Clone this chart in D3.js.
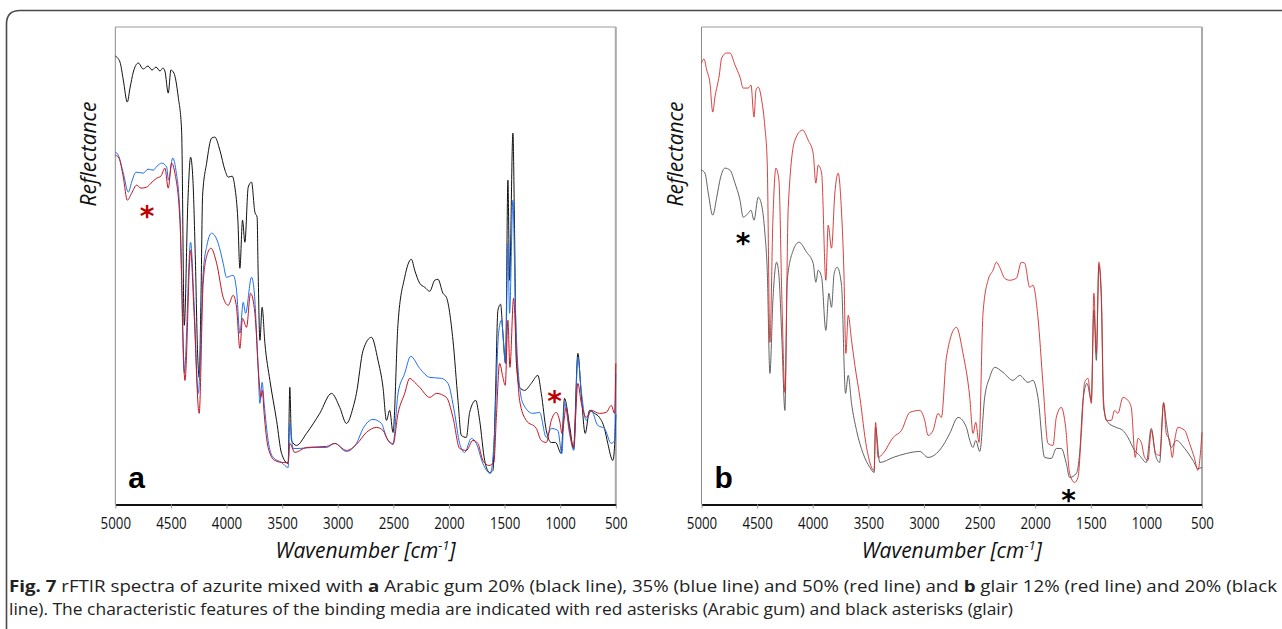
<!DOCTYPE html>
<html><head><meta charset="utf-8">
<script src="https://cdn.jsdelivr.net/npm/d3@7"></script>
<style>body{margin:0;background:#fff}svg{display:block}</style>
</head><body>
<svg id="chart" width="1282" height="629"></svg>
<script>
// ---------- data (wavenumber cm-1, reflectance a.u.) ----------
const wavenumberTicks = [5000,4500,4000,3500,3000,2500,2000,1500,1000,500];

const arabicGum20 = [[5000,448],[4958,442],[4928,424],[4892,402],[4868,416],[4838,432],[4793,441],[4749,435],[4706,438],[4670,434],[4634,437],[4598,433],[4572,436],[4554,433],[4524,411],[4500,434],[4473,431],[4434,407],[4404,374],[4380,179],[4347,304],[4323,347],[4302,324],[4280,244],[4260,151],[4246,127],[4230,204],[4215,309],[4179,341],[4134,366],[4105,367],[4060,354],[4014,334],[3985,327],[3949,328],[3925,317],[3898,284],[3880,236],[3856,284],[3835,262],[3805,317],[3775,322],[3745,292],[3725,287],[3716,234],[3700,164],[3680,197],[3655,161],[3610,124],[3550,84],[3505,51],[3446,41],[3431,117],[3416,64],[3371,59],[3281,71],[3162,91],[3056,111],[2982,97],[2922,81],[2862,97],[2832,111],[2772,154],[2697,167],[2638,144],[2593,117],[2562,84],[2533,94],[2503,72],[2458,181],[2398,227],[2338,245],[2308,234],[2263,221],[2218,217],[2173,213],[2128,224],[2099,225],[2054,211],[2023,207],[1964,164],[1919,104],[1889,69],[1844,67],[1814,92],[1760,104],[1724,84],[1679,44],[1634,32],[1605,34],[1583,104],[1560,194],[1536,200],[1515,171],[1491,141],[1470,324],[1455,224],[1425,371],[1410,271],[1395,144],[1365,117],[1320,114],[1260,121],[1201,129],[1170,111],[1125,74],[1080,62],[1042,62],[991,51],[961,106],[916,79],[880,56],[841,151],[811,111],[775,71],[736,94],[691,91],[647,87],[602,76],[572,61],[527,44],[510,60],[500,90]];

const arabicGum35 = [[5000,352],[4973,349],[4928,331],[4883,312],[4853,322],[4814,332],[4749,331],[4706,335],[4659,334],[4625,338],[4583,341],[4538,337],[4522,324],[4484,346],[4455,334],[4419,291],[4380,132],[4323,262],[4293,204],[4254,111],[4210,231],[4176,259],[4134,271],[4075,261],[4030,241],[4000,227],[3940,229],[3910,214],[3880,171],[3850,202],[3829,191],[3775,227],[3752,214],[3716,137],[3700,101],[3680,122],[3662,101],[3626,64],[3581,47],[3505,42],[3446,37],[3431,81],[3401,56],[3341,56],[3222,57],[3101,57],[3027,61],[2922,53],[2832,61],[2772,76],[2683,85],[2607,81],[2562,67],[2503,61],[2458,111],[2398,131],[2344,148],[2263,136],[2173,127],[2068,126],[2009,121],[1949,91],[1904,61],[1859,52],[1799,66],[1754,61],[1695,41],[1628,31],[1590,71],[1554,171],[1529,184],[1491,141],[1470,261],[1455,191],[1425,304],[1404,204],[1380,137],[1335,101],[1246,91],[1185,92],[1125,67],[1080,76],[1021,74],[985,51],[961,102],[916,71],[877,54],[841,147],[811,114],[766,84],[721,94],[662,79],[602,76],[541,61],[511,64],[500,131]];

const arabicGum50 = [[5000,349],[4967,346],[4928,327],[4892,304],[4853,311],[4808,319],[4769,316],[4718,317],[4679,321],[4628,326],[4590,328],[4554,336],[4524,316],[4493,341],[4464,331],[4419,284],[4374,124],[4323,254],[4293,194],[4246,91],[4210,221],[4176,249],[4140,256],[4089,241],[4030,207],[3985,199],[3940,209],[3910,197],[3880,156],[3856,186],[3820,177],[3784,211],[3745,191],[3707,124],[3691,107],[3678,114],[3662,91],[3626,57],[3566,44],[3491,42],[3446,42],[3431,61],[3386,52],[3281,57],[3101,58],[3027,61],[2922,54],[2832,60],[2742,72],[2652,77],[2593,74],[2548,64],[2503,60],[2458,91],[2398,111],[2353,126],[2308,122],[2263,117],[2173,107],[2113,111],[2023,107],[1964,87],[1904,56],[1844,54],[1785,64],[1740,61],[1695,44],[1641,39],[1596,42],[1574,87],[1545,141],[1515,127],[1494,119],[1470,184],[1452,137],[1419,206],[1395,154],[1365,104],[1305,84],[1215,76],[1170,64],[1125,62],[1080,84],[1036,92],[1000,81],[985,71],[946,97],[916,74],[880,57],[841,121],[811,102],[766,87],[721,94],[647,91],[586,92],[541,99],[511,91],[500,141]];

const glair12 = [[5000,441],[4978,445],[4953,434],[4924,421],[4899,392],[4879,407],[4840,429],[4819,446],[4774,451],[4744,451],[4699,439],[4654,427],[4625,416],[4580,416],[4555,419],[4528,387],[4510,414],[4490,417],[4459,404],[4430,377],[4409,341],[4385,162],[4358,284],[4331,336],[4304,324],[4277,204],[4250,112],[4220,297],[4160,364],[4091,374],[4041,364],[3996,351],[3972,321],[3951,339],[3920,331],[3882,224],[3861,279],[3831,256],[3801,311],[3771,331],[3741,292],[3720,234],[3702,151],[3681,189],[3651,164],[3621,139],[3576,107],[3516,57],[3448,34],[3435,82],[3412,47],[3367,51],[3277,67],[3202,74],[3127,92],[3037,94],[2993,84],[2963,69],[2918,74],[2873,91],[2843,87],[2798,147],[2708,177],[2649,151],[2588,107],[2559,71],[2534,82],[2505,62],[2469,191],[2424,224],[2379,234],[2349,242],[2319,237],[2274,226],[2229,224],[2169,226],[2124,242],[2094,241],[2049,217],[2020,219],[1975,187],[1930,121],[1885,61],[1840,59],[1810,87],[1765,97],[1726,77],[1690,31],[1645,22],[1615,27],[1585,71],[1555,122],[1525,126],[1495,101],[1472,211],[1450,151],[1427,242],[1405,211],[1385,104],[1360,84],[1315,84],[1286,94],[1256,91],[1211,107],[1166,104],[1136,97],[1100,47],[1076,66],[1046,62],[1016,47],[986,44],[956,74],[917,51],[881,49],[845,102],[821,71],[791,64],[767,47],[746,64],[716,77],[656,74],[612,61],[567,46],[537,34],[500,72]];

const glair20 = [[5000,334],[4969,331],[4939,311],[4899,289],[4863,307],[4828,327],[4789,336],[4744,334],[4699,321],[4654,304],[4625,287],[4580,291],[4555,294],[4528,284],[4490,307],[4459,299],[4430,271],[4409,234],[4385,131],[4358,204],[4325,242],[4304,229],[4277,164],[4250,94],[4229,224],[4175,254],[4124,262],[4055,252],[3996,241],[3972,222],[3951,234],[3920,227],[3882,174],[3855,211],[3831,197],[3807,231],[3780,237],[3741,219],[3705,111],[3681,129],[3651,101],[3606,74],[3547,51],[3486,37],[3448,32],[3435,77],[3397,42],[3277,47],[3157,51],[3037,53],[2963,47],[2887,51],[2828,59],[2768,71],[2693,87],[2618,77],[2588,64],[2559,57],[2534,64],[2498,53],[2454,107],[2409,127],[2364,137],[2289,132],[2199,124],[2139,129],[2065,122],[2020,124],[1975,107],[1915,47],[1855,46],[1810,56],[1765,56],[1720,41],[1690,27],[1630,31],[1600,51],[1570,104],[1534,121],[1495,104],[1472,194],[1450,144],[1427,239],[1405,204],[1385,97],[1346,82],[1271,77],[1211,74],[1166,67],[1106,54],[1061,49],[1001,42],[956,76],[917,49],[881,42],[845,101],[821,82],[776,57],[731,64],[656,56],[581,44],[537,36],[500,37]];

// asterisk annotations [wavenumber, reflectance]
const asterisksA = [[4715,296],[1051,111]];
const asterisksB = [[4627,269],[1699,12]];

// ---------- drawing ----------
const svg = d3.select("#chart");
const W = 1282, H = 629;

svg.append("path")
  .attr("d", `M6.5,${H} V24 Q6.5,10.5 20,10.5 H${W}`)
  .attr("fill","none").attr("stroke","#4a4a4a").attr("stroke-width",1.6);

const plotTop = 27, plotBottom = 504.5;
const yScale = d3.scaleLinear().domain([0,477]).range([plotBottom, plotTop]);

function panel(left, right, seriesList, letter, asterisks, astColor){
  const x = d3.scaleLinear().domain([5000,500]).range([left, right]);
  const g = svg.append("g");
  g.append("line").attr("x1",left).attr("x2",right).attr("y1",plotTop).attr("y2",plotTop)
    .attr("stroke","#9a9a9a").attr("stroke-width",1);
  g.append("line").attr("x1",left).attr("x2",left).attr("y1",plotTop).attr("y2",plotBottom)
    .attr("stroke","#8a8a8a").attr("stroke-width",1);
  g.append("line").attr("x1",right).attr("x2",right).attr("y1",plotTop).attr("y2",plotBottom)
    .attr("stroke","#aaaaaa").attr("stroke-width",2);

  const line = d3.line().x(d=>x(d[0])).y(d=>yScale(d[1])).curve(d3.curveMonotoneX);
  seriesList.forEach(s=>{
    g.append("path").datum(s.data).attr("d",line)
      .attr("fill","none").attr("stroke",s.color).attr("stroke-width",s.w)
      .attr("stroke-linejoin","round");
  });

  const ax = g.append("g").attr("transform",`translate(0,${plotBottom})`)
    .call(d3.axisBottom(x).tickValues(wavenumberTicks).tickSize(4).tickSizeOuter(0).tickFormat(d3.format("d")));
  ax.select(".domain").attr("stroke","#111").attr("stroke-width",2);
  ax.selectAll(".tick line").attr("stroke","#999");
  ax.selectAll(".tick text")
    .attr("y",19).attr("dy","0.32em")
    .attr("font-family","'Open Sans',sans-serif")
    .attr("font-size",16.5).attr("fill","#111")
    .attr("textLength",d=>String(d).length*7.6).attr("lengthAdjust","spacingAndGlyphs");

  const t = g.append("text").attr("x",(left+right)/2).attr("y",558)
    .attr("text-anchor","middle").attr("font-family","'Open Sans',sans-serif")
    .attr("font-style","italic").attr("font-size",21).attr("fill","#111");
  t.append("tspan").text("Wavenumber [cm");
  t.append("tspan").attr("dy",-8).attr("font-size",13).text("-1");
  t.append("tspan").attr("dy",8).text("]");

  g.append("text").attr("transform",`translate(${left-19},${154}) rotate(-90)`)
    .attr("text-anchor","middle").attr("font-family","'Open Sans',sans-serif")
    .attr("font-style","italic").attr("font-size",21).attr("fill","#111")
    .text("Reflectance");

  g.append("text").attr("x",left+13).attr("y",488)
    .attr("font-family","'Liberation Sans',Arial,sans-serif").attr("font-weight","bold")
    .attr("font-size",30).attr("fill","#000").text(letter);

  g.selectAll("text.ast").data(asterisks).join("text").attr("class","ast")
    .attr("x",d=>x(d[0])).attr("y",d=>yScale(d[1])+18)
    .attr("text-anchor","middle")
    .attr("font-family","'DejaVu Sans',sans-serif").attr("font-weight","bold")
    .attr("font-size",28).attr("fill",astColor).text("*");
}

panel(115.3, 615.8, [
  {data:arabicGum20, color:"#111111", w:1},
  {data:arabicGum35, color:"#1f6ff0", w:1},
  {data:arabicGum50, color:"#c8141e", w:1}
], "a", asterisksA, "#c00000");

panel(701.5, 1202, [
  {data:glair20, color:"#505050", w:0.9},
  {data:glair12, color:"#d42a2a", w:0.9}
], "b", asterisksB, "#000");

const cap1 = svg.append("text").attr("x",9).attr("y",592)
  .attr("font-family","'Open Sans',sans-serif").attr("font-size",16.5).attr("fill","#222")
  .attr("textLength",1268).attr("lengthAdjust","spacingAndGlyphs");
cap1.append("tspan").attr("font-weight","bold").text("Fig. 7");
cap1.append("tspan").text("  rFTIR spectra of azurite mixed with ");
cap1.append("tspan").attr("font-weight","bold").text("a");
cap1.append("tspan").text(" Arabic gum 20% (black line), 35% (blue line) and 50% (red line) and ");
cap1.append("tspan").attr("font-weight","bold").text("b");
cap1.append("tspan").text(" glair 12% (red line) and 20% (black");

svg.append("text").attr("x",9).attr("y",615)
  .attr("font-family","'Open Sans',sans-serif").attr("font-size",16.5).attr("fill","#222")
  .attr("textLength",1004).attr("lengthAdjust","spacingAndGlyphs")
  .text("line). The characteristic features of the binding media are indicated with red asterisks (Arabic gum) and black asterisks (glair)");
</script>
</body></html>
